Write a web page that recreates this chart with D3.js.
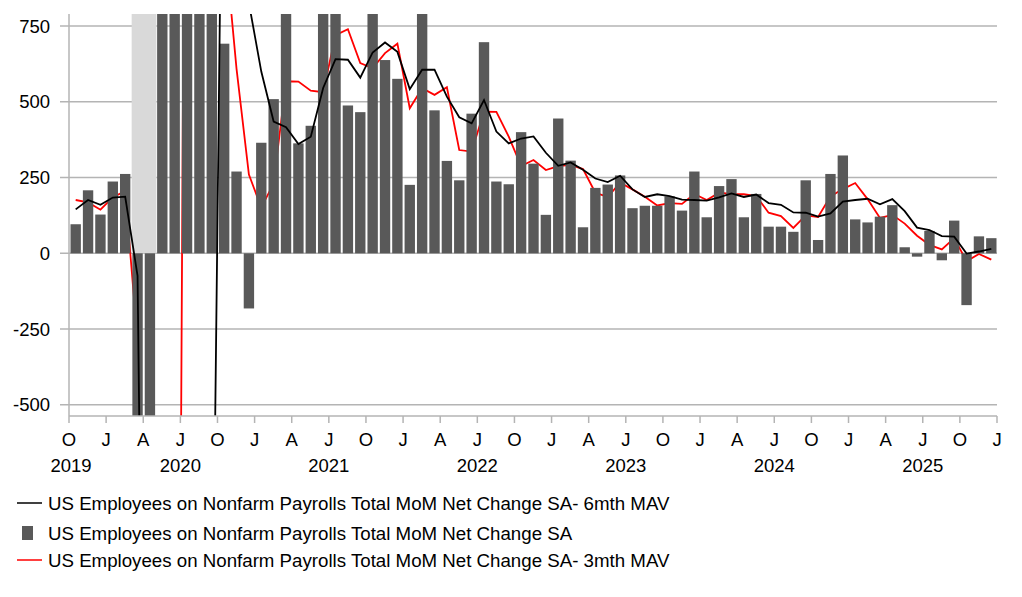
<!DOCTYPE html>
<html>
<head>
<meta charset="utf-8">
<script src="https://cdn.jsdelivr.net/npm/d3@7"></script>
<style>
  body { margin: 0; background: #fff; }
  svg text { font-family: "Liberation Sans", Arial, sans-serif; }
</style>
</head>
<body>
<svg id="chart"></svg>
<script>
// monthly data, Oct 2019 .. Dec 2025 (thousands)
var firstMonth = new Date(2019, 9, 1)
var payrolls = [96, 208, 128, 237, 262, -1373, -20500, 2725, 4505, 1726, 1583, 866,
                692, 270, -182, 365, 509, 830, 363, 421, 806, 926, 488, 466,
                879, 638, 576, 226, 860, 472, 305, 241, 461, 697, 237, 228,
                400, 296, 127, 445, 306, 86, 216, 227, 257, 149, 157, 157,
                188, 141, 270, 119, 222, 245, 119, 196, 88, 88, 71, 241,
                44, 262, 323, 112, 102, 121, 159, 20, -11, 74, -23, 108,
                -171, 56, 50]
var mav3 = [176, 168, 144, 185, 205, -291, -7204, -6383, -4423, 2985, 2605, 1392,
            1047, 609, 260, 151, 231, 568, 567, 537, 532, 720, 740, 628,
            611, 661, 692, 479, 545, 523, 548, 341, 336, 468, 467, 385,
            288, 308, 275, 288, 292, 278, 200, 186, 233, 211, 187, 158,
            166, 163, 196, 176, 200, 196, 195, 189, 134, 123, 84, 125,
            120, 188, 212, 232, 179, 117, 127, 98, 58, 28, 13, 50,
            -26, -2, -21]
var mav6 = [145, 176, 160, 184, 187, -74, -3506, -3087, -2357, -2109, -1889, -1516,
            2016, 1607, 826, 600, 435, 416, 361, 385, 546, 641, 639, 580,
            663, 696, 665, 542, 606, 606, 517, 449, 429, 506, 402, 363,
            379, 386, 332, 289, 300, 276, 247, 235, 256, 211, 186, 195,
            189, 177, 176, 174, 185, 198, 186, 194, 166, 160, 135, 134,
            121, 132, 171, 176, 180, 162, 179, 139, 85, 77, 57, 55,
            -1, 6, 15]
var yTicks = [-500, -250, 0, 250, 500, 750]
var recession = [5, 7]   // Mar 2020 - Apr 2020 (month index range)
var years = [2019, 2020, 2021, 2022, 2023, 2024, 2025]
var legendLabels = [
    "US Employees on Nonfarm Payrolls Total MoM Net Change SA- 6mth MAV",
    "US Employees on Nonfarm Payrolls Total MoM Net Change SA",
    "US Employees on Nonfarm Payrolls Total MoM Net Change SA- 3mth MAV"
]

var width = 1022, height = 597
var plot = {left: 69, right: 997, top: 14, bottom: 416}
var barColor = "#595959"
var gridColor = "#b4b4b4"
var shadeColor = "#d9d9d9"
var fontSize = 18.5

var svg = d3.select("#chart").attr("width", width).attr("height", height)

var nMonths = payrolls.length + 1
var x = d3.scaleLinear().domain([0, nMonths - 1]).range([plot.left, plot.right])
var y = d3.scaleLinear().domain([-537, 790]).range([plot.bottom, plot.top])
var step = x(1) - x(0)

svg.append("clipPath").attr("id", "plot-clip")
   .append("rect")
   .attr("x", plot.left).attr("y", plot.top)
   .attr("width", plot.right - plot.left).attr("height", plot.bottom - plot.top)

//gridlines + y ticks
svg.append("g").selectAll("line")
   .data(yTicks)
   .join("line")
   .attr("x1", plot.left - 9).attr("x2", plot.right)
   .attr("y1", d => y(d)).attr("y2", d => y(d))
   .attr("stroke", gridColor).attr("stroke-width", 1.5)

svg.append("g").selectAll("text")
   .data(yTicks)
   .join("text")
   .attr("x", 50).attr("y", d => y(d))
   .attr("dy", "0.35em")
   .attr("text-anchor", "end")
   .attr("font-size", fontSize)
   .text(d => d)

var body = svg.append("g").attr("clip-path", "url(#plot-clip)")

//recession shading (above zero only)
body.append("rect")
    .attr("x", x(recession[0]) + 0.8)
    .attr("width", x(recession[1]) - x(recession[0]))
    .attr("y", plot.top)
    .attr("height", y(0) - plot.top)
    .attr("fill", shadeColor)

var line = d3.line()
             .x((d, i) => x(i + 0.5) + 0.5)
             .y(d => y(d))

//3 month average sits behind the bars
body.append("path")
    .datum(mav3)
    .attr("d", line)
    .attr("fill", "none")
    .attr("stroke", "#ff0000")
    .attr("stroke-width", 1.8)

body.append("g").selectAll("rect")
    .data(payrolls)
    .join("rect")
    .attr("x", (d, i) => x(i) + 1.5)
    .attr("width", step - 2)
    .attr("y", d => y(Math.max(0, d)))
    .attr("height", d => Math.abs(y(d) - y(0)))
    .attr("fill", barColor)

body.append("path")
    .datum(mav6)
    .attr("d", line)
    .attr("fill", "none")
    .attr("stroke", "#000")
    .attr("stroke-width", 1.8)

//axes lines
svg.append("line")
   .attr("x1", plot.left).attr("x2", plot.left)
   .attr("y1", plot.top).attr("y2", plot.bottom)
   .attr("stroke", gridColor).attr("stroke-width", 1.5)
svg.append("line")
   .attr("x1", plot.left).attr("x2", plot.right)
   .attr("y1", plot.bottom).attr("y2", plot.bottom)
   .attr("stroke", gridColor).attr("stroke-width", 1.5)

//quarter ticks
var quarterIdx = d3.range(0, nMonths, 3)
var letter = i => d3.timeFormat("%b")(d3.timeMonth.offset(firstMonth, i)).charAt(0)
svg.append("g").selectAll("line")
   .data(quarterIdx)
   .join("line")
   .attr("x1", d => x(d)).attr("x2", d => x(d))
   .attr("y1", plot.bottom).attr("y2", plot.bottom + 7)
   .attr("stroke", gridColor).attr("stroke-width", 1.5)
svg.append("g").selectAll("text")
   .data(quarterIdx)
   .join("text")
   .attr("x", d => x(d)).attr("y", 446)
   .attr("text-anchor", "middle")
   .attr("font-size", fontSize)
   .text(d => letter(d))

//year labels centred on July
svg.append("g").selectAll("text")
   .data(years)
   .join("text")
   .attr("x", d => Math.max(x(d3.timeMonth.count(firstMonth, new Date(d, 6, 1))), x(0) + 2))
   .attr("y", 472)
   .attr("text-anchor", "middle")
   .attr("font-size", fontSize)
   .text(d => d)

//legend
var legend = svg.append("g").attr("font-size", 18.7)
var rows = [503, 533, 560]
legend.append("line").attr("x1", 17).attr("x2", 42).attr("y1", rows[0]).attr("y2", rows[0])
      .attr("stroke", "#000").attr("stroke-width", 1.5)
legend.append("rect").attr("x", 22).attr("y", rows[1] - 7).attr("width", 11).attr("height", 14)
      .attr("fill", barColor)
legend.append("line").attr("x1", 17).attr("x2", 42).attr("y1", rows[2]).attr("y2", rows[2])
      .attr("stroke", "#ff0000").attr("stroke-width", 1.5)
legend.selectAll("text")
      .data(legendLabels)
      .join("text")
      .attr("x", 48).attr("y", (d, i) => rows[i])
      .attr("dy", "0.35em")
      .text(d => d)
</script>
</body>
</html>
